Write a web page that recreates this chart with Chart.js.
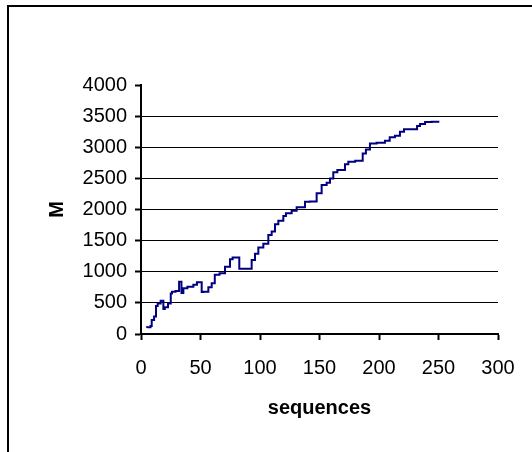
<!DOCTYPE html>
<html>
<head>
<meta charset="utf-8">
<script src="https://cdn.jsdelivr.net/npm/chart.js@4.4.1/dist/chart.umd.min.js"></script>
<style>
    html, body {
        margin: 0;
        padding: 0;
        background: #fff;
    }
    .wrap {
        position: relative;
        width: 532px;
        height: 452px;
        overflow: hidden;
    }
    /* outer chart frame, runs off the right and bottom edge */
    .frame {
        position: absolute;
        left: 7px;
        top: 5px;
        width: 600px;
        height: 600px;
        border-top: 2px solid #000;
        border-left: 2px solid #000;
    }
    canvas {
        position: absolute;
        left: 0;
        top: 0;
    }
</style>
</head>
<body>
<div class="wrap">
    <div class="frame"></div>
    <canvas id="chart" width="532" height="452"></canvas>
</div>
<script>
// Cumulative M against number of sequences
const sequences = [
    5, 8, 9, 11, 12.6, 14, 16.5, 18.8, 20, 22.7, 25, 26, 29, 32, 34, 35.6, 39, 44, 47, 51,
    52.4, 56.6, 59.4, 62, 66, 70.6, 74.8, 77, 80, 82.6, 83.2, 93, 95.8, 98.6, 102.8, 107,
    109.8, 112.6, 115.4, 119.6, 121.8, 126.6, 130.8, 137.8, 142, 147.6, 151.8, 156, 158.8,
    161.6, 165, 171.4, 174.2, 180, 186.3, 189, 192.4, 198, 205, 209, 213.4, 217.6, 221,
    232, 234.5, 238.7, 244.3, 250.7
];
const mValues = [
    100, 110, 130, 225, 280, 450, 490, 535, 400, 430, 490, 650, 680, 690, 840, 660, 735, 760, 790, 830,
    675, 680, 750, 815, 950, 975, 1080, 1200, 1230, 1230, 1050, 1050, 1190, 1290, 1390, 1450,
    1590, 1645, 1765, 1820, 1895, 1940, 1980, 2035, 2125, 2130, 2260, 2395, 2430,
    2500, 2600, 2635, 2725, 2768, 2784, 2900, 2965, 3060, 3073, 3105, 3160, 3186, 3250,
    3290, 3340, 3375, 3405, 3410
];

const xMax = 300;
const xStep = 50;
const yMax = 4000;
const yStep = 500;

const points = sequences.map((s, i) => ({ x: s, y: mValues[i] }));

const tickFont = { family: 'Liberation Sans, Arial, sans-serif', size: 20 };
const titleFont = { family: 'Liberation Sans, Arial, sans-serif', size: 20, weight: 'bold' };

new Chart(document.getElementById('chart'), {
    type: 'line',
    data: {
        datasets: [{
            data: points,
            borderColor: '#000080',
            borderWidth: 2,
            pointRadius: 0,
            stepped: 'after',
            fill: false
        }]
    },
    options: {
        responsive: false,
        animation: false,
        layout: {
            padding: { left: 0, top: 85, right: 34, bottom: 32 }
        },
        plugins: {
            legend: { display: false },
            tooltip: { enabled: false }
        },
        scales: {
            x: {
                type: 'linear',
                min: 0,
                max: xMax,
                ticks: {
                    stepSize: xStep,
                    color: '#000',
                    font: tickFont,
                    padding: 16,
                    maxRotation: 0,
                    callback: v => String(v)
                },
                grid: {
                    drawOnChartArea: false,
                    tickColor: '#000',
                    tickLength: 6,
                    tickWidth: 2
                },
                border: { color: '#000', width: 2 },
                title: {
                    display: true,
                    text: 'sequences',
                    color: '#000',
                    font: titleFont,
                    padding: 0
                },
                afterFit(scale) {
                    scale.height = 86;
                }
            },
            y: {
                min: 0,
                max: yMax,
                ticks: {
                    stepSize: yStep,
                    color: '#000',
                    font: tickFont,
                    padding: 8,
                    callback: v => String(v)
                },
                grid: {
                    color: ctx => (ctx.tick && ctx.tick.value === yMax) ? 'rgba(0,0,0,0)' : '#000',
                    lineWidth: 1,
                    tickColor: '#000',
                    tickLength: 6,
                    tickWidth: 2
                },
                border: { color: '#000', width: 2 },
                title: {
                    display: true,
                    text: 'M',
                    color: '#000',
                    font: titleFont,
                    padding: { top: 45 }
                },
                afterFit(scale) {
                    scale.width = 141;
                }
            }
        }
    }
});
</script>
</body>
</html>
